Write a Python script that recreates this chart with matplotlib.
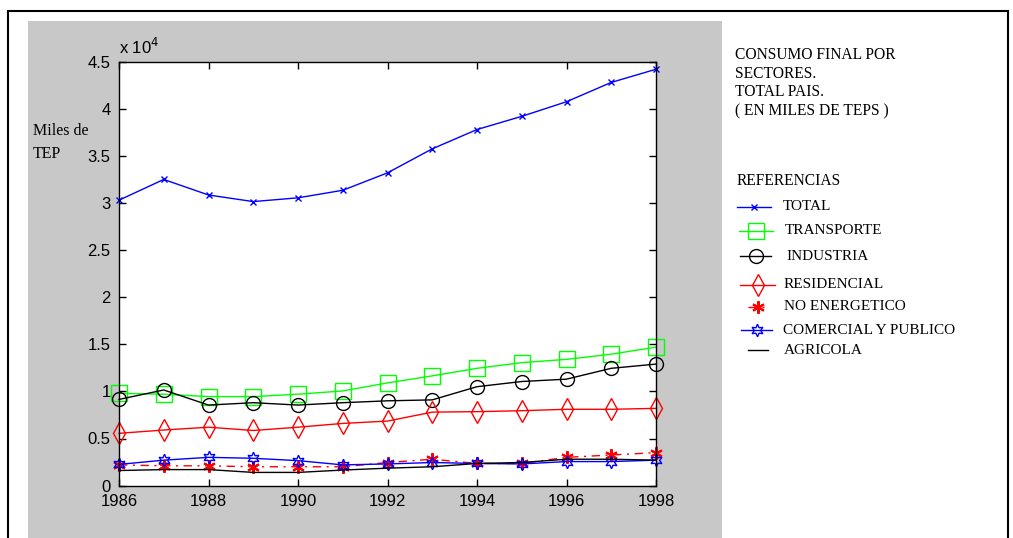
import numpy as np
import matplotlib
matplotlib.use('Agg')
import matplotlib.pyplot as plt
from matplotlib.lines import Line2D
from matplotlib.patches import Rectangle

# data (miles de TEP)
years = [1986, 1987, 1988, 1989, 1990, 1991, 1992, 1993, 1994, 1995, 1996, 1997, 1998]
total = [30300, 32500, 30850, 30150, 30550, 31350, 33200, 35750, 37800, 39200, 40750, 42800, 44200]
transporte = [9800, 9700, 9450, 9450, 9700, 10050, 10900, 11650, 12450, 13050, 13400, 13950, 14700]
industria = [9150, 10150, 8550, 8800, 8550, 8800, 9000, 9100, 10500, 11050, 11300, 12450, 12900]
residencial = [5550, 5900, 6200, 5850, 6200, 6600, 6850, 7800, 7850, 7950, 8100, 8100, 8200]
no_energetico = [2200, 2100, 2100, 2000, 2000, 2000, 2450, 2800, 2350, 2350, 3000, 3250, 3500]
comercial = [2250, 2700, 3000, 2900, 2650, 2200, 2300, 2450, 2350, 2300, 2550, 2550, 2700]
agricola = [1600, 1700, 1700, 1400, 1400, 1650, 1850, 2000, 2350, 2450, 2800, 2800, 2700]

xticks = [1986, 1988, 1990, 1992, 1994, 1996, 1998]
yticks = np.arange(0, 45001, 5000)
ytick_labels = ['0', '0.5', '1', '1.5', '2', '2.5', '3', '3.5', '4', '4.5']

title_lines = ['CONSUMO FINAL POR', 'SECTORES.', 'TOTAL PAIS.', '( EN MILES DE TEPS )']
legend_names = ['TOTAL', 'TRANSPORTE', 'INDUSTRIA', 'RESIDENCIAL', 'NO ENERGETICO',
                'COMERCIAL Y PUBLICO', 'AGRICOLA']

W, H = 1013, 538
fig = plt.figure(figsize=(W / 100, H / 100), dpi=100)
fig.patch.set_facecolor('white')

def fx(px):
    return px / W

def fy(py):
    return 1 - py / H

# outer black frame and gray figure area
fig.add_artist(Rectangle((fx(8), fy(545)), fx(1000), fy(11) - fy(545), transform=fig.transFigure,
                         facecolor='white', edgecolor='black', lw=1.5, zorder=0))
fig.add_artist(Rectangle((fx(28), fy(540)), fx(694), fy(21) - fy(540), transform=fig.transFigure,
                         facecolor='#c8c8c8', edgecolor='none', zorder=0))

ax = fig.add_axes([fx(119), fy(485.6), fx(656 - 119), fy(61.7) - fy(485.6)])
ax.set_facecolor('white')
ax.set_zorder(1)

asterisk = (6, 2, 0)
hexagram = (6, 1, 0)
dashdot = (0, (6, 4, 1.5, 4))

styles = [
    dict(color='blue', marker='x', ms=5, mew=1),
    dict(color=(0, 1, 0), marker='s', ms=11, mfc='none', mew=1),
    dict(color='black', marker='o', ms=10, mfc='none', mew=1),
    dict(color='red', marker='d', ms=11, mfc='none', mew=1),
    dict(color='red', marker=asterisk, ms=9, mew=1.5, linestyle=dashdot),
    dict(color='blue', marker=hexagram, ms=9, mfc='none', mew=1),
    dict(color='black'),
]
series = [total, transporte, industria, residencial, no_energetico, comercial, agricola]
for vals, st in zip(series, styles):
    ax.plot(years, vals, lw=1, clip_on=False, **st)

ax.set_xlim(1986, 1998)
ax.set_ylim(0, 45000)
ax.set_xticks(xticks)
ax.set_yticks(yticks)
ax.set_yticklabels(ytick_labels)
ax.tick_params(direction='in', length=5, width=1, top=True, right=True, labelsize=12)
ax.tick_params(axis='y', pad=6)
ax.tick_params(axis='x', pad=6)
for lab in ax.get_xticklabels() + ax.get_yticklabels():
    lab.set_fontfamily('Liberation Sans')
for s in ax.spines.values():
    s.set_linewidth(1)

ax.text(0.0, 1.012, 'x 10$^4$', transform=ax.transAxes, fontsize=12,
        family='Liberation Sans', ha='left', va='bottom')

serif = 'Liberation Serif'
fig.text(fx(33), fy(131), 'Miles de', fontsize=11.5, family=serif, va='center')
fig.text(fx(33), fy(154), 'TEP', fontsize=11.5, family=serif, va='center')

for i, t in enumerate(title_lines):
    fig.text(fx(735), fy(55 + i * 18.7), t, fontsize=11.2, family=serif, va='center')
fig.text(fx(737), fy(181), 'REFERENCIAS', fontsize=11.2, family=serif, va='center')

# legend drawn by hand, as in the reference
leg_y = [207, 231, 256, 285, 307, 330, 350]
leg_line = [(737, 771), (739, 773), (740, 771), (740, 775), (748, 768), (741, 772), (748, 768)]
leg_text_x = [783, 785, 786, 784, 784, 783, 784]
for name, y, (x0, x1), tx, st in zip(legend_names, leg_y, leg_line, leg_text_x, styles):
    xs = [fx(x0), fx((x0 + x1) / 2), fx(x1)]
    ln = Line2D(xs, [fy(y)] * 3, transform=fig.transFigure, lw=1, markevery=[1], **st)
    fig.add_artist(ln)
    fig.text(fx(tx), fy(y), name, fontsize=11, family=serif, va='center')

fig.savefig('out.png', dpi=100)
